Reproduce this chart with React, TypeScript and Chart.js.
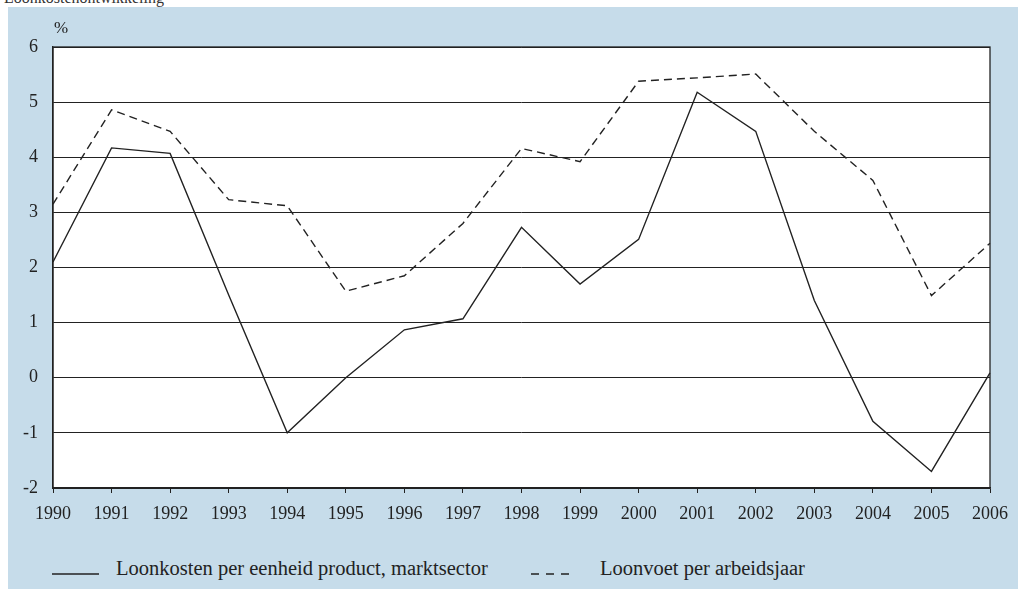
import React, { useEffect, useRef } from "react";
import { Chart, registerables } from "chart.js";

Chart.register(...registerables);

const years = ["1990","1991","1992","1993","1994","1995","1996","1997","1998","1999","2000","2001","2002","2003","2004","2005","2006"];
const loonkosten = [2.1, 4.17, 4.07, 1.5, -1.0, 0.0, 0.87, 1.07, 2.73, 1.7, 2.51, 5.18, 4.47, 1.4, -0.79, -1.7, 0.09];
const loonvoet = [3.15, 4.86, 4.47, 3.23, 3.12, 1.57, 1.85, 2.8, 4.16, 3.92, 5.38, 5.44, 5.51, 4.47, 3.58, 1.49, 2.44];
const seriesNames = ["Loonkosten per eenheid product, marktsector", "Loonvoet per arbeidsjaar"];
const yMin = -2;
const yMax = 6;

const FONT = "'Liberation Serif', 'Times New Roman', serif";
const INK = "#222";
const BLUE = "#c6dcea";

const plotFrame = {
  id: "plotFrame",
  beforeDraw(chart: any) {
    const { ctx, chartArea: a } = chart;
    ctx.save();
    ctx.fillStyle = "#ffffff";
    ctx.fillRect(a.left, a.top, a.right - a.left, a.bottom - a.top);
    ctx.restore();
  },
  afterDraw(chart: any) {
    const { ctx, chartArea: a } = chart;
    ctx.save();
    ctx.strokeStyle = INK;
    ctx.lineWidth = 1.3;
    ctx.strokeRect(a.left, a.top, a.right - a.left, a.bottom - a.top);
    ctx.restore();
  },
};

export default function App() {
  const ref = useRef<HTMLCanvasElement>(null);
  useEffect(() => {
    if (!ref.current) return;
    const chart = new Chart(ref.current, {
      type: "line",
      data: {
        labels: years,
        datasets: [
          {
            label: seriesNames[0],
            data: loonkosten,
            borderColor: INK,
            borderWidth: 1.4,
            pointRadius: 0,
            tension: 0,
            fill: false,
          },
          {
            label: seriesNames[1],
            data: loonvoet,
            borderColor: INK,
            borderWidth: 1.4,
            borderDash: [8, 5],
            pointRadius: 0,
            tension: 0,
            fill: false,
          },
        ],
      },
      options: {
        animation: false,
        responsive: false,
        maintainAspectRatio: false,
        layout: { padding: { left: 0, right: 22, top: 40, bottom: 0 } },
        plugins: { legend: { display: false }, tooltip: { enabled: false } },
        scales: {
          x: {
            type: "category",
            offset: false,
            grid: {
              drawOnChartArea: false,
              drawTicks: true,
              tickLength: 5,
              color: INK,
            },
            border: { display: true, color: INK, width: 1.3 },
            ticks: {
              autoSkip: false,
              maxRotation: 0,
              padding: 10,
              color: INK,
              font: { family: FONT, size: 18 },
            },
            afterFit(scale: any) {
              scale.height = 32;
            },
          },
          y: {
            min: yMin,
            max: yMax,
            grid: { color: INK, lineWidth: 1, drawTicks: false },
            border: { display: true, color: INK, width: 1.3 },
            ticks: {
              stepSize: 1,
              padding: 15,
              color: INK,
              font: { family: FONT, size: 18 },
              callback: (v: any) => String(v),
            },
            afterFit(scale: any) {
              scale.width = 45;
            },
          },
        },
      },
      plugins: [plotFrame],
    });
    return () => chart.destroy();
  }, []);

  const txt: React.CSSProperties = { fontFamily: FONT, fontSize: 18, color: INK, position: "absolute", whiteSpace: "nowrap" };

  return (
    <div style={{ position: "absolute", left: 0, top: 0, width: 1018, height: 589, background: "#fff", overflow: "hidden" }}>
      <div style={{ position: "absolute", left: 0, top: 0, width: 300, height: 7, overflow: "hidden" }}>
        <div style={{ ...txt, left: 4, top: -11, fontSize: 16, color: "#333" }}>Loonkostenontwikkeling</div>
      </div>
      <div style={{ position: "absolute", left: 8, top: 7, width: 1010, height: 582, background: BLUE }}>
        <canvas ref={ref} width={1010} height={513} style={{ position: "absolute", left: 0, top: 0, width: 1010, height: 513 }} />
        <div style={{ ...txt, left: 46, top: 11, fontSize: 17 }}>%</div>
        <svg width={50} height={6} style={{ position: "absolute", left: 44, top: 564 }}>
          <line x1={0} y1={3} x2={47} y2={3} stroke={INK} strokeWidth={1.5} />
        </svg>
        <div style={{ ...txt, left: 108, top: 550, fontSize: 20.5 }}>{seriesNames[0]}</div>
        <svg width={50} height={6} style={{ position: "absolute", left: 523, top: 564 }}>
          <line x1={0} y1={3} x2={40} y2={3} stroke={INK} strokeWidth={1.5} strokeDasharray="8,7" />
        </svg>
        <div style={{ ...txt, left: 592, top: 550, fontSize: 20.5 }}>{seriesNames[1]}</div>
      </div>
    </div>
  );
}
